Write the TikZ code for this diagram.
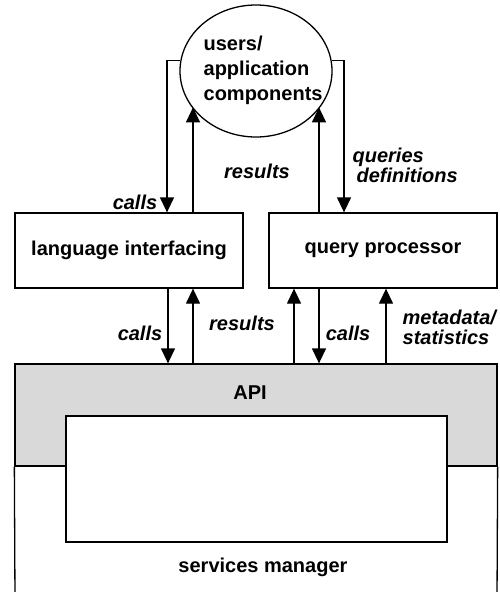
\documentclass[tikz,border=0pt]{standalone}
\usepackage{fontspec}
\setmainfont{Liberation Sans}
\usetikzlibrary{arrows.meta,shapes.geometric}
\begin{document}
\begin{tikzpicture}[x=1pt,y=-1pt,
  line width=1.3pt,
  font=\fontsize{20}{25}\selectfont\bfseries,
  arr/.style={-{Triangle[width=14pt,length=15pt]}},
  lbl/.style={inner sep=0pt,font=\fontsize{20}{20}\selectfont\bfseries\itshape},
  box/.style={draw,rectangle,inner sep=0pt},
  apifill/.style={fill={rgb,255:red,217;green,217;blue,217}}]
\useasboundingbox (0,0) rectangle (499,592);
% services manager / API
\node[box,apifill,minimum width=482pt,minimum height=102pt] (api) at (256,415) {};
\draw (api.south west) -- (15,600) (api.south east) -- (497,600);
\node[box,fill=white,minimum width=381pt,minimum height=126pt] (core) at (256.5,479) {};
\node[inner sep=0pt] (apit) at (250,393) {API};
\node[inner sep=0pt] (smt) at (263,567) {services manager};
% upper boxes
\node[box,minimum width=228pt,minimum height=75pt] (li) at (129,250.5) {language interfacing};
\node[box,minimum width=228pt,minimum height=75pt] (qp) at (383,250.5) {query processor};
% ellipse
\node[draw,ellipse,minimum width=152pt,minimum height=132pt,inner sep=0pt] (eu) at (256,71) {};
\node[inner sep=0pt,align=left,anchor=west] (eut) at (203,70) {users/\\application\\components};
% top connectors
\draw[arr] (eu.172) -| ([xshift=38pt]li.north);
\draw[arr] ([xshift=64pt]li.north) -- ++(0,-105);
\draw[arr] (eu.8) -| ([xshift=-39pt]qp.north);
\draw[arr] ([xshift=-64pt]qp.north) -- ++(0,-105);
% lower connectors
\draw[arr] ([xshift=39pt]li.south) -- ([xshift=39pt]li.south |- api.north);
\draw[arr] ([xshift=64pt]li.south |- api.north) -- ([xshift=64pt]li.south);
\draw[arr] ([xshift=-89pt]qp.south |- api.north) -- ([xshift=-89pt]qp.south);
\draw[arr] ([xshift=-64pt]qp.south) -- ([xshift=-64pt]qp.south |- api.north);
\draw[arr] ([xshift=3pt]qp.south |- api.north) -- ([xshift=3pt]qp.south);
% labels
\node[lbl] (l1) at (135,202) {calls};
\node[lbl] (l2) at (257,171) {results};
\node[lbl,align=left,anchor=west] (l3) at (352,165) {queries\\\hspace*{4pt}definitions};
\node[lbl] (l4) at (140,333) {calls};
\node[lbl] (l5) at (242,323) {results};
\node[lbl] (l6) at (348,333) {calls};
\node[lbl,align=left,anchor=west] (l7) at (402,327) {metadata/\\statistics};
\end{tikzpicture}
\end{document}
